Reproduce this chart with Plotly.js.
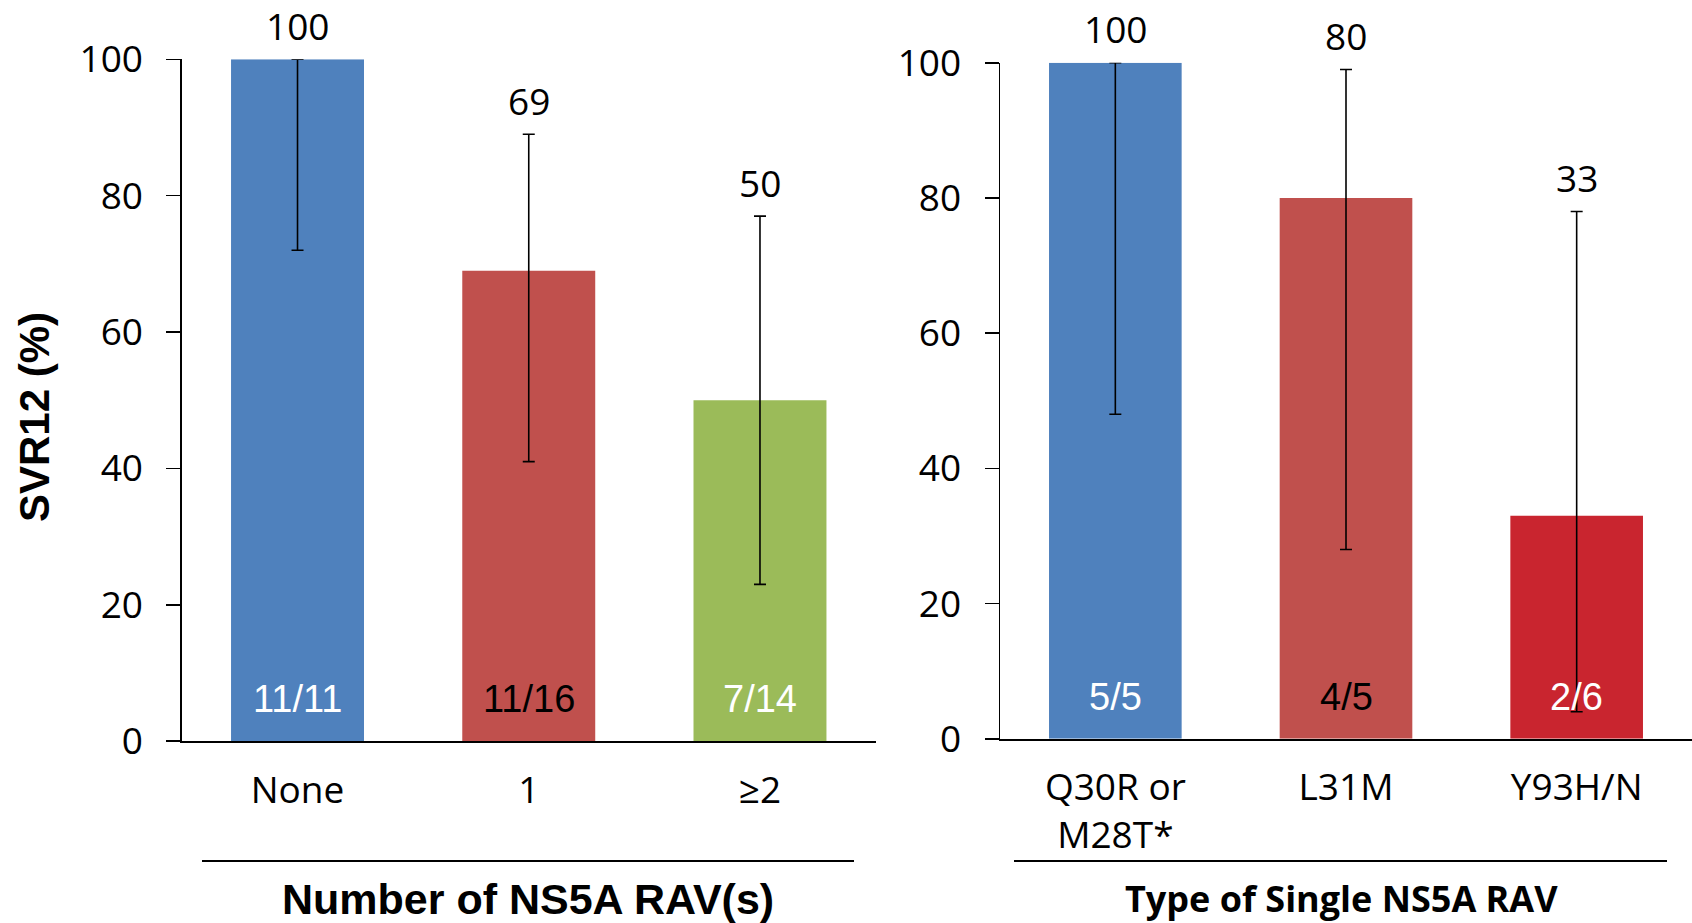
<!DOCTYPE html>
<html>
<head>
<meta charset="utf-8">
<script src="https://cdn.plot.ly/plotly-3.0.1.min.js"></script>
<style>
  html, body { margin: 0; padding: 0; background: #ffffff; }
  #chart { width: 1692px; height: 923px; }
</style>
</head>
<body>
<div id="chart"></div>
<script>
// ---- Data ----
const leftCategories = ["None", "1", "≥2"];
const leftValues = [100, 69, 50];
const leftCiLow = [72, 41, 23];
const leftCiHigh = [100, 89, 77];
const leftCounts = ["11/11", "11/16", "7/14"];

const rightCategories = ["Q30R or<br>M28T*", "L31M", "Y93H/N"];
const rightValues = [100, 80, 33];
const rightCiLow = [48, 28, 4];
const rightCiHigh = [100, 99, 78];
const rightCounts = ["5/5", "4/5", "2/6"];

const leftColors = ["#4F81BD", "#C0504D", "#9BBB59"];
const rightColors = ["#4F81BD", "#C0504D", "#C9252F"];
const leftCountColors = ["#ffffff", "#000000", "#ffffff"];
const rightCountColors = ["#ffffff", "#000000", "#ffffff"];

const yTickVals = [0, 20, 40, 60, 80, 100];

const W = 1692, H = 923;
const px = x => x / W;
const py = y => 1 - y / H;

const calibriLike = "Open Sans, Lato, DejaVu Sans, sans-serif";
const arialBold = "Liberation Sans, Arial, sans-serif";
const arialNarrow = "Liberation Sans Narrow, Arial Narrow, Liberation Sans, sans-serif";

function barTrace(cats, vals, lo, hi, colors, xa, ya) {
  return {
    type: "bar",
    x: cats,
    y: vals,
    xaxis: xa,
    yaxis: ya,
    width: 0.575,
    marker: { color: colors, line: { width: 0 } },
    error_y: {
      type: "data",
      symmetric: false,
      array: vals.map((v, i) => hi[i] - v),
      arrayminus: vals.map((v, i) => v - lo[i]),
      color: "#000000",
      thickness: 1.6,
      width: 6
    },
    hoverinfo: "x+y",
    showlegend: false
  };
}

const traces = [
  barTrace(leftCategories, leftValues, leftCiLow, leftCiHigh, leftColors, "x", "y"),
  barTrace(rightCategories, rightValues, rightCiLow, rightCiHigh, rightColors, "x2", "y2")
];

const annotations = [];
function addLabels(cats, vals, hi, counts, countColors, xa, ya) {
  cats.forEach((c, i) => {
    annotations.push({
      xref: xa, yref: ya, x: c, y: hi[i],
      text: String(vals[i]), showarrow: false,
      yanchor: "middle", yshift: 34,
      font: { family: calibriLike, size: 37, color: "#000000" }
    });
    annotations.push({
      xref: xa, yref: ya, x: c, y: 0,
      text: counts[i], showarrow: false,
      yanchor: "middle", yshift: 42,
      font: { family: arialNarrow, size: 38, color: countColors[i] }
    });
  });
}
addLabels(leftCategories, leftValues, leftCiHigh, leftCounts, leftCountColors, "x", "y");
addLabels(rightCategories, rightValues, rightCiHigh, rightCounts, rightCountColors, "x2", "y2");

annotations.push({
  xref: "paper", yref: "paper", x: px(35), y: py(417),
  text: "<b>SVR12 (%)</b>", showarrow: false, textangle: -90,
  xanchor: "center", yanchor: "middle",
  font: { family: arialBold, size: 42, color: "#000000" }
});
annotations.push({
  xref: "paper", yref: "paper", x: px(528), y: py(899),
  text: "<b>Number of NS5A RAV(s)</b>", showarrow: false,
  xanchor: "center", yanchor: "middle",
  font: { family: arialBold, size: 43, color: "#000000" }
});
annotations.push({
  xref: "paper", yref: "paper", x: px(1341), y: py(898),
  text: "<b>Type of Single NS5A RAV</b>", showarrow: false,
  xanchor: "center", yanchor: "middle",
  font: { family: calibriLike, size: 36, color: "#000000" }
});

const shapes = [
  { type: "line", xref: "paper", yref: "paper", x0: px(202), x1: px(854), y0: py(861), y1: py(861),
    line: { color: "#000000", width: 2 } },
  { type: "line", xref: "paper", yref: "paper", x0: px(1014), x1: px(1667), y0: py(861), y1: py(861),
    line: { color: "#000000", width: 2 } }
];

function yAxis(domain, anchor) {
  return {
    domain: domain,
    anchor: anchor,
    range: [0, 100],
    tickvals: yTickVals,
    ticktext: yTickVals.map(String),
    ticks: "outside",
    ticklen: 14,
    tickwidth: 1.5,
    tickcolor: "#000000",
    ticklabelstandoff: 16,
    showline: true,
    linecolor: "#000000",
    linewidth: 1.5,
    showgrid: false,
    zeroline: false,
    fixedrange: true,
    tickfont: { family: calibriLike, size: 37, color: "#000000" }
  };
}

function xAxis(domain, anchor) {
  return {
    domain: domain,
    anchor: anchor,
    type: "category",
    range: [-0.5, 2.5],
    showline: true,
    linecolor: "#000000",
    linewidth: 2,
    ticks: "",
    ticklabelstandoff: 15,
    showgrid: false,
    zeroline: false,
    fixedrange: true,
    tickfont: { family: calibriLike, size: 37, color: "#000000" }
  };
}

const layout = {
  width: W,
  height: H,
  margin: { l: 0, r: 0, t: 0, b: 0 },
  paper_bgcolor: "#ffffff",
  plot_bgcolor: "rgba(0,0,0,0)",
  showlegend: false,
  xaxis: xAxis([px(181.9), px(875.6)], "y"),
  yaxis: yAxis([py(741.2), py(59.3)], "x"),
  xaxis2: xAxis([px(1000), 1], "y2"),
  yaxis2: yAxis([py(738.8), py(62.8)], "x2"),
  annotations: annotations,
  shapes: shapes
};

Plotly.newPlot("chart", traces, layout, { displayModeBar: false, staticPlot: true });
</script>
</body>
</html>
